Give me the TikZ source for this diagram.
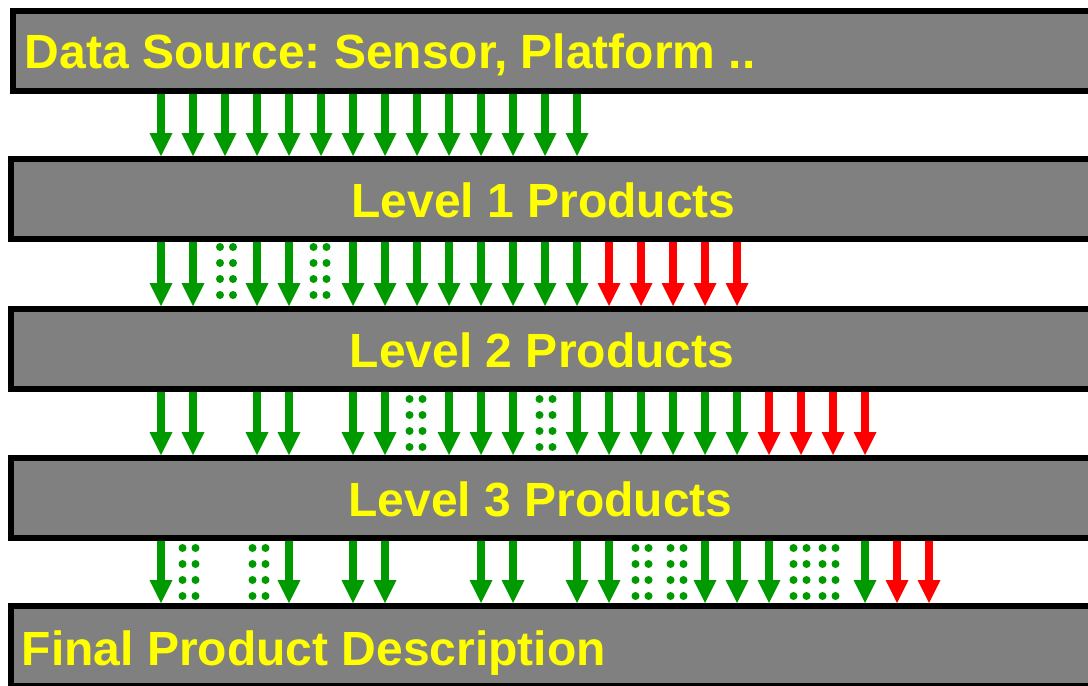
\documentclass[tikz,border=0pt]{standalone}
\usepackage{fontspec}
\setmainfont{Liberation Sans}
\usetikzlibrary{arrows.meta}
\definecolor{bargray}{HTML}{808080}
\definecolor{agreen}{HTML}{009900}
\definecolor{ared}{HTML}{FF0000}
\definecolor{tyellow}{HTML}{FFFF00}
\frenchspacing
\newcommand\dotpair[2]{% x centre, y of first dot row
  \foreach \dy in {0,16,32,48}{%
    \fill[agreen] (#1-6.5,#2+\dy) circle[radius=4pt];
    \fill[agreen] (#1+6.5,#2+\dy) circle[radius=4pt];
  }%
}
\begin{document}
\begin{tikzpicture}[x=1pt,y=-1pt,
  bar/.style={rectangle, draw=black, line width=6pt, fill=bargray, inner sep=0pt,
              minimum height=80pt, minimum width=1090pt},
  lbl/.style={text=tyellow, font=\fontsize{48}{56}\selectfont\bfseries, inner sep=0pt},
  flow/.style={line width=7.3pt, -{Triangle[width=23pt,length=23pt,line width=0pt]}},
  gflow/.style={flow, draw=agreen, fill=agreen},
  rflow/.style={flow, draw=ared, fill=ared}
]
\useasboundingbox (0,0) rectangle (1088,686);
\clip (0,0) rectangle (1088,686);

% bars
\node[bar] (b1) at (558,51) {};
\node[bar] (b2) at (556,199) {};
\node[bar] (b3) at (556,349) {};
\node[bar] (b4) at (556,498) {};
\node[bar] (b5) at (556,646) {};

% labels
\node[lbl, anchor=base west] (t1) at (24.5,68) {Data Source: Sensor, Platform ..};
\node[lbl, anchor=base] (t2) at (543.5,217) {Level 1 Products};
\node[lbl, anchor=base] (t3) at (542,367) {Level 2 Products};
\node[lbl, anchor=base] (t4) at (540.5,516) {Level 3 Products};
\node[lbl, anchor=base west] (t5) at (21.5,665) {Final Product Description};

% arrow columns
\foreach \i in {0,...,24} \coordinate (c\i) at (161+32*\i,0);

% row 1
\foreach \i in {0,...,13} \draw[gflow] (b1.south -| c\i) -- (b2.north -| c\i);

% row 2
\foreach \i in {0,1,3,4,6,7,8,9,10,11,12,13} \draw[gflow] (b2.south -| c\i) -- (b3.north -| c\i);
\foreach \i in {14,...,18} \draw[rflow] (b2.south -| c\i) -- (b3.north -| c\i);
\dotpair{226.5}{247}
\dotpair{320}{247}

% row 3
\foreach \i in {0,1,3,4,6,7,9,10,11,13,14,15,16,17,18} \draw[gflow] (b3.south -| c\i) -- (b4.north -| c\i);
\foreach \i in {19,...,22} \draw[rflow] (b3.south -| c\i) -- (b4.north -| c\i);
\dotpair{416}{399}
\dotpair{546}{399}

% row 4
\foreach \i in {0,4,6,7,10,11,13,14,17,18,19,22} \draw[gflow] (b4.south -| c\i) -- (b5.north -| c\i);
\foreach \i in {23,24} \draw[rflow] (b4.south -| c\i) -- (b5.north -| c\i);
\foreach \x in {189,259,642,677,800,829} {\dotpair{\x}{548}}
\end{tikzpicture}
\end{document}
